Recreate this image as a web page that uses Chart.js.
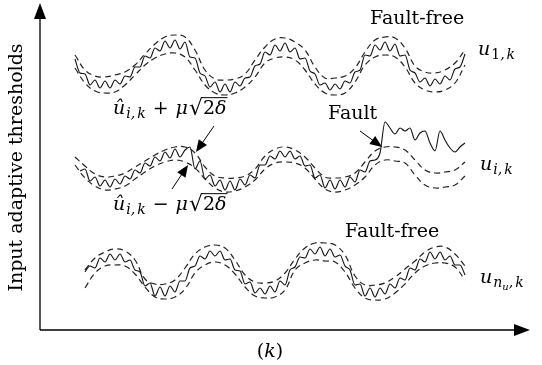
<!DOCTYPE html>
<html>
<head>
<meta charset="utf-8">
<script src="https://cdn.jsdelivr.net/npm/chart.js@4"></script>
<style>
  html, body { margin: 0; padding: 0; background: #fff; }
  canvas { display: block; }
</style>
</head>
<body>
<canvas id="thresholds" width="542" height="365"></canvas>
<script>
// sample index k: the signals are read every step, the thresholds every 2nd step
const kSignal = Array.from({ length: 79 }, (_, i) => i);
const kBound = kSignal.filter((k) => k % 2 === 0);

// u_1,k (fault-free)
const u1 = [6,-8,-9,-20,-15,-23,-16,-23,-15,-19, -11,-12,-2,-2,9,7,17,14,24,17,
  25,16,23,8,7,-8,-11,-22,-17,-27, -19,-27,-17,-21,-13,-12,-1,1,13,10,
  20,14,22,13,17,6,7,-6,-9,-20, -18,-25,-19,-24,-16,-18,-7,-5,10,9,
  20,15,23,14,21,9,10,-5,-8,-17, -13,-21,-14,-19,-11,-15,-4,-2,11];
const u1Upper = [10,-5,-11,-12,-10,-7,0,11,21,28, 30,28,15,-5,-14,-15,-14,-9,5,18,
  26,27,23,15,-2,-13,-13,-11,-3,13, 25,28,27,17,-1,-7,-8,-5,2,15];
const u1Lower = [-3,-18,-26,-28,-27,-20,-10,0,7,11, 12,8,-5,-20,-28,-30,-28,-22,-12,2,
  7,8,5,-5,-19,-28,-30,-28,-17,0, 8,10,8,-2,-18,-25,-27,-25,-18,0];

// u_i,k (fault after k = 62)
const ui = [null,-3,-1,-13,-9,-18,-12,-19,-11,-16, -8,-11,-2,-5,5,2,11,7,16,10,
  19,11,18,21,-1,7,-11,-7,-18,-12, -22,-13,-22,-11,-17,-7,-10,3,3,12,
  9,17,11,17,9,12,2,3,-10,-7, -20,-12,-21,-12,-19,-9,-14,-2,-4,7,
  8,15,46,40,34,40,37,40,28,35, 37,25,17,37,28,20,16,21,25];
const uiUpper = [11,2,-6,-9,-8,-5,1,7,13,18, 21,21,15,1,-8,-10,-10,-8,-1,12,
  19,21,18,11,0,-9,-10,-9,-5,6, 17,21,21,18,8,-2,-5,-4,-2,6];
const uiLower = [3,-10,-18,-22,-21,-18,-11,-4,2,6, 8,6,0,-11,-20,-24,-23,-19,-12,-1,
  5,6,5,0,-11,-21,-24,-22,-17,-9, 3,8,7,5,-7,-17,-20,-19,-17,-8];

// u_nu,k (fault-free)
const un = [null,null,0,6,4,14,10,18,12,18, 10,12,2,0,-14,-11,-24,-15,-24,-14,
  -20,-9,-9,4,6,16,13,21,16,21, 12,13,2,1,-12,-10,-21,-16,-22,-14,
  -20,-9,-13,2,5,15,14,23,18,25, 16,23,15,17,6,2,-13,-12,-24,-16,
  -25,-16,-22,-12,-16,-6,-8,4,2,13, 10,20,13,20,12,16,7,7,-3];
const unUpper = [null,2,14,20,23,21,12,-7,-12,-12, -8,4,18,25,27,24,12,-3,-10,-11,
  -9,-1,13,24,29,29,27,17,-4,-13, -13,-11,-5,3,11,20,25,25,18,6];
const unLower = [null,-16,-1,6,7,6,-2,-15,-25,-27, -25,-17,-1,7,10,7,-2,-15,-24,-26,
  -25,-18,2,9,12,11,10,0,-16,-26, -28,-27,-21,-12,-1,6,9,9,5,-8];

// vertical place of each channel on the shared axis
const offsetTop = 265, offsetMid = 162, offsetBottom = 58;

const FONT = "'DejaVu Serif', serif";
const FS = 19;

function pts(ks, vals, off) {
  return ks.map((k, i) => ({ x: k, y: vals[i] == null ? null : vals[i] + off }));
}
function signal(ks, vals, off) {
  return {
    data: pts(ks, vals, off),
    borderColor: "#111",
    borderWidth: 1.1,
    pointRadius: 0,
    cubicInterpolationMode: "monotone",
  };
}
function bound(ks, vals, off) {
  return {
    data: pts(ks, vals, off),
    borderColor: "#222",
    borderWidth: 1.2,
    borderDash: [6, 4],
    pointRadius: 0,
    tension: 0.4,
  };
}

// runs of text: [text, size, italic, dy, space after]
function drawRuns(ctx, x, y, runs, align) {
  let w = 0;
  runs.forEach((r) => {
    ctx.font = (r[2] ? "italic " : "") + r[1] + "px " + FONT;
    w += ctx.measureText(r[0]).width + (r[4] || 0);
  });
  let cx = align === "center" ? x - w / 2 : x;
  const spans = [];
  runs.forEach((r) => {
    ctx.font = (r[2] ? "italic " : "") + r[1] + "px " + FONT;
    ctx.fillText(r[0], cx, y + (r[3] || 0));
    const rw = ctx.measureText(r[0]).width;
    spans.push([cx, rw]);
    cx += rw + (r[4] || 0);
  });
  return spans;
}

function head(ctx, tx, ty, ang, len, half) {
  ctx.beginPath();
  ctx.moveTo(tx, ty);
  ctx.lineTo(tx - len * Math.cos(ang) + half * Math.sin(ang), ty - len * Math.sin(ang) - half * Math.cos(ang));
  ctx.lineTo(tx - len * Math.cos(ang) - half * Math.sin(ang), ty - len * Math.sin(ang) + half * Math.cos(ang));
  ctx.closePath();
  ctx.fill();
}

// annotation arrows in data units: [k tail, value tail, k tip, value tip]
const pointers = [
  [27.8, 204, 24.2, 178],
  [19.4, 141, 22.6, 165],
  [57, 199, 61.4, 183],
];

const sketch = {
  id: "sketch",
  afterDraw(chart) {
    const { ctx, chartArea: a, scales } = chart;
    ctx.save();
    ctx.fillStyle = "#000";
    ctx.strokeStyle = "#000";
    ctx.lineWidth = 1.3;
    // axes
    ctx.beginPath();
    ctx.moveTo(a.left, a.bottom);
    ctx.lineTo(a.left, a.top + 10);
    ctx.moveTo(a.left, a.bottom);
    ctx.lineTo(a.right - 10, a.bottom);
    ctx.stroke();
    head(ctx, a.left, a.top - 2, -Math.PI / 2, 16, 6);
    head(ctx, a.right, a.bottom, 0, 16, 6);

    // pointers
    ctx.lineWidth = 1;
    pointers.forEach((p) => {
      const x0 = scales.x.getPixelForValue(p[0]), y0 = scales.y.getPixelForValue(p[1]);
      const x1 = scales.x.getPixelForValue(p[2]), y1 = scales.y.getPixelForValue(p[3]);
      const ang = Math.atan2(y1 - y0, x1 - x0);
      ctx.beginPath();
      ctx.moveTo(x0, y0);
      ctx.lineTo(x1 - 8 * Math.cos(ang), y1 - 8 * Math.sin(ang));
      ctx.stroke();
      head(ctx, x1, y1, ang, 12, 5);
    });

    ctx.textBaseline = "alphabetic";
    const sub = 14, sub2 = 10;
    drawRuns(ctx, 370, 24, [["Fault-free", FS, false]]);
    drawRuns(ctx, 345, 237, [["Fault-free", FS, false]]);
    drawRuns(ctx, 328, 119, [["Fault", FS, false]]);
    drawRuns(ctx, 478, 55, [["u", FS, true, 0, 1], ["1", sub, false, 4], [",", sub, true, 4, 2], ["k", sub, true, 4]]);
    drawRuns(ctx, 480, 170, [["u", FS, true, 0, 1], ["i", sub, true, 4], [",", sub, true, 4, 2], ["k", sub, true, 4]]);
    drawRuns(ctx, 480, 283, [["u", FS, true, 0, 1], ["n", sub, true, 4], ["u", sub2, true, 7], [",", sub, true, 4, 2], ["k", sub, true, 4]]);

    const bounds = [[114, "+"], [210, "\u2212"]];
    bounds.forEach((b) => {
      const s = drawRuns(ctx, 113, b[0], [["\u00fb", FS, true, 0, 1], ["i", sub, true, 4], [",", sub, true, 4, 2], ["k", sub, true, 4, 7],
        [b[1], FS, false, 0, 7], ["\u03bc", FS, true, 0, 1], ["\u221a", 22, false, 1], ["2", FS, false], ["\u03b4", FS, true]]);
      const r = s[6], end = s[8];
      ctx.lineWidth = 1;
      ctx.beginPath();
      ctx.moveTo(r[0] + r[1] - 1, b[0] - FS * 0.86);
      ctx.lineTo(end[0] + end[1] + 1, b[0] - FS * 0.86);
      ctx.stroke();
    });

    drawRuns(ctx, 270, 357, [["(", FS, false], ["k", FS, true], [")", FS, false]], "center");

    ctx.translate(17, (a.top + a.bottom) / 2);
    ctx.rotate(-Math.PI / 2);
    ctx.textBaseline = "middle";
    drawRuns(ctx, 0, 0, [["Input adaptive thresholds", FS, false]], "center");
    ctx.restore();
  },
};

new Chart(document.getElementById("thresholds"), {
  type: "line",
  data: {
    datasets: [
      signal(kSignal, u1, offsetTop),
      bound(kBound, u1Upper, offsetTop),
      bound(kBound, u1Lower, offsetTop),
      signal(kSignal, ui, offsetMid),
      bound(kBound, uiUpper, offsetMid),
      bound(kBound, uiLower, offsetMid),
      signal(kSignal, un, offsetBottom),
      bound(kBound, unUpper, offsetBottom),
      bound(kBound, unLower, offsetBottom),
    ],
  },
  options: {
    responsive: false,
    animation: false,
    devicePixelRatio: 1,
    layout: { padding: { left: 40, right: 12, top: 5, bottom: 35 } },
    scales: {
      x: { type: "linear", min: -7, max: 91, display: false },
      y: { min: 0, max: 325, display: false },
    },
    plugins: { legend: { display: false }, tooltip: { enabled: false } },
  },
  plugins: [sketch],
});
</script>
</body>
</html>
